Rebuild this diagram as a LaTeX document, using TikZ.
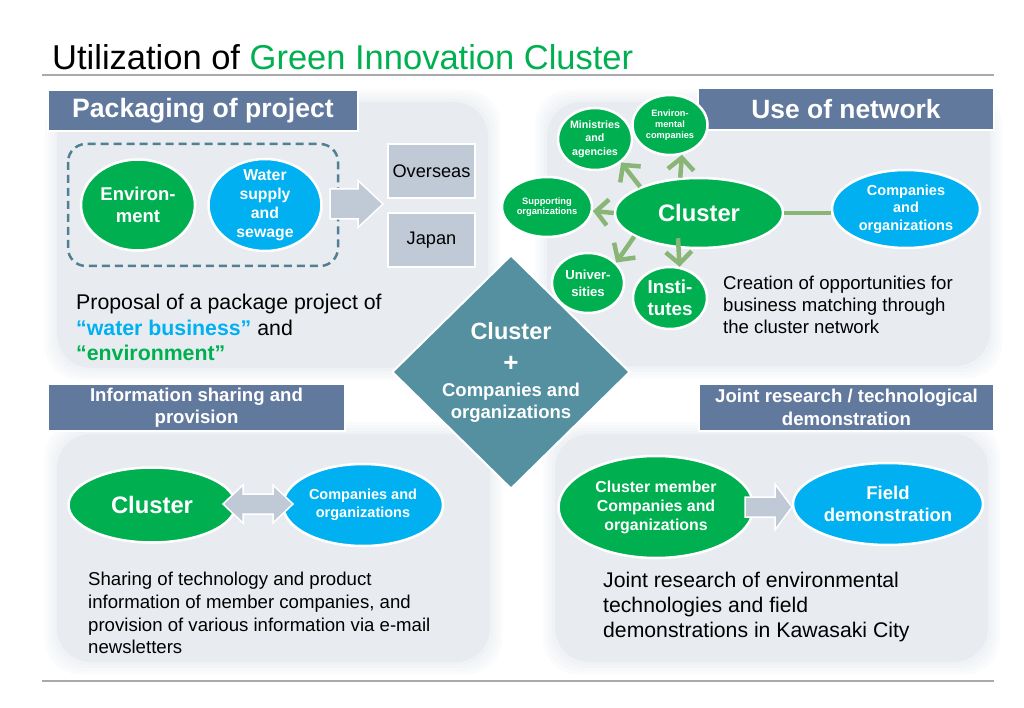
\documentclass[tikz,border=0pt]{standalone}
\usepackage{fontspec}
\setmainfont{Liberation Sans}
\usepackage{xcolor}
\usetikzlibrary{arrows.meta,positioning,shapes.geometric}
\definecolor{ClusterGreen}{RGB}{0,176,80}
\definecolor{WaterBlue}{RGB}{0,176,240}
\definecolor{HeadBlue}{RGB}{98,121,158}
\definecolor{PanelGray}{RGB}{232,236,241}
\definecolor{HubTeal}{RGB}{84,144,160}
\definecolor{NetGreen}{RGB}{137,182,118}
\definecolor{BoxGray}{RGB}{192,202,215}
\definecolor{DashTeal}{RGB}{80,128,145}
\definecolor{RuleGray}{RGB}{170,170,170}
\newcommand{\fsz}[2]{\fontsize{#1}{#2}\selectfont}
% soft-edged background panel
\newcommand{\softpanel}[4]{%
  \foreach \grow in {12,9,6,3}{%
    \fill[PanelGray, opacity=0.22, rounded corners=34pt] (#1-\grow,#2-\grow) rectangle (#3+\grow,#4+\grow);}
  \fill[PanelGray, rounded corners=34pt] (#1,#2) rectangle (#3,#4);}
\tikzset{
  headbox/.style={fill=HeadBlue, draw=white, line width=2pt, text=white, align=center, inner sep=0pt},
  greenball/.style={ellipse, fill=ClusterGreen, draw=white, line width=2.5pt, inner sep=0pt},
  blueball/.style={ellipse, fill=WaterBlue, draw=white, line width=2.5pt, inner sep=0pt},
  balltext/.style={text=white, align=center},
  graybox/.style={fill=BoxGray, draw=white, line width=2pt, inner sep=0pt},
  blockarrow/.style={fill=BoxGray, draw=white, line width=1.5pt, line join=miter},
  netarrow/.style={draw=NetGreen, line width=4.5pt, -{Straight Barb[length=12pt,width=26pt]}},
  dashbox/.style={draw=DashTeal, line width=2.5pt, dash pattern=on 8pt off 5pt, rounded corners=18pt},
  bodytext/.style={align=left, inner sep=0pt, anchor=west}
}

\begin{document}
\begin{tikzpicture}[x=1pt, y=-1pt]
  \useasboundingbox (0,0) rectangle (1024,708);

  % title and rules
  \node[anchor=base west, inner sep=0pt, font=\fsz{34.5}{40}] (title) at (52,70) {Utilization of \textcolor{ClusterGreen}{Green Innovation Cluster}};
  \draw[RuleGray, line width=1.2pt] (42,75) -- (994,75);
  \draw[RuleGray, line width=1.2pt] (42,681) -- (994,681);

  % panels
  \softpanel{57}{102}{488}{368}
  \softpanel{547}{102}{990}{366}
  \softpanel{57}{434}{490}{662}
  \softpanel{555}{434}{988}{662}

  % headers
  \node[headbox, minimum width=310pt, minimum height=41pt, font=\bfseries\fsz{26.6}{30}] (hpack) at (203,110.5) {Packaging of project};
  \node[headbox, minimum width=296pt, minimum height=42pt, font=\bfseries\fsz{26.4}{30}] (hnet) at (846,109) {Use of network};
  \node[headbox, minimum width=297pt, minimum height=47pt, font=\bfseries\fsz{18.6}{22.5}] (hinfo) at (196.5,407.5) {Information sharing and\\provision};
  \node[headbox, minimum width=295pt, minimum height=47pt, font=\bfseries\fsz{18.6}{22.5}] (hjoint) at (846.5,407.5) {Joint research / technological\\demonstration};

  % packaging of project
  \draw[dashbox] (68,144) rectangle (338,266);
  \node[greenball, minimum width=114pt, minimum height=91pt,
        label={[balltext, font=\bfseries\fsz{18.5}{21.7}]center:Environ-\\ment}] (env) at (138,205) {};
  \node[blueball, minimum width=113pt, minimum height=92pt,
        label={[balltext, font=\bfseries\fsz{15.8}{19}]center:Water\\supply\\and\\sewage}] (wat) at (265,205) {};
  \draw[blockarrow] (330,189) -- (358,189) -- (358,180.5) -- (383,204) -- (358,227.5) -- (358,219) -- (330,219) -- cycle;
  \node[graybox, minimum width=87pt, minimum height=54pt, font=\fsz{18.2}{22}] (ovs) at (431.5,171) {Overseas};
  \node[graybox, minimum width=87pt, minimum height=54pt, font=\fsz{18.2}{22}] (jpn) at (431.5,240) {Japan};
  \node[bodytext, font=\fsz{21.3}{25.5}] (prop) at (76,327.5) {Proposal of a package project of\\{\bfseries\color{WaterBlue}“water business”} and\\{\bfseries\color{ClusterGreen}“environment”}};

  % centre diamond
  \node[diamond, fill=HubTeal, draw=white, line width=2pt, minimum width=238pt, minimum height=234pt, inner sep=0pt,
        label={[balltext, font=\bfseries\fsz{18.5}{21.7}]center:{\fsz{23.5}{21.7}Cluster}\\[11pt]{\fsz{26}{21.7}+}\\[3pt]Companies and\\organizations}] (hub) at (511,372) {};

  % use of network
  \node[greenball, minimum width=168pt, minimum height=70pt,
        label={[balltext, font=\bfseries\fsz{23.8}{28}]center:Cluster}] (cl) at (699,213) {};
  \node[blueball, minimum width=148pt, minimum height=78pt,
        label={[balltext, font=\bfseries\fsz{14.5}{17.5}]center:Companies\\and\\organizations}] (co) at (906,209) {};
  \node[greenball, minimum width=90pt, minimum height=60pt,
        label={[balltext, font=\bfseries\fsz{9.3}{10.7}]center:Supporting\\organizations}] (sup) at (547,207) {};
  \node[greenball, minimum width=74pt, minimum height=62pt,
        label={[balltext, font=\bfseries\fsz{10.7}{13.3}]center:Ministries\\and\\agencies}] (mins) at (595,139) {};
  \node[greenball, minimum width=75pt, minimum height=60pt,
        label={[balltext, font=\bfseries\fsz{9.2}{11}]center:Environ-\\mental\\companies}] (envc) at (670,125) {};
  \node[greenball, minimum width=72pt, minimum height=60pt,
        label={[balltext, font=\bfseries\fsz{13.1}{16.7}]center:Univer-\\sities}] (uni) at (588,283) {};
  \node[greenball, minimum width=74pt, minimum height=62pt,
        label={[balltext, font=\bfseries\fsz{18.8}{21.7}]center:Insti-\\tutes}] (ins) at (670,298) {};
  \draw[NetGreen, line width=4pt] (cl.east) -- (cl.east -| co.west);
  \draw[netarrow] (cl.180) -- (sup.-5);
  \draw[netarrow] (cl.156) -- (mins.-42);
  \draw[netarrow] (cl.118) -- (envc.-68);
  \draw[netarrow] (cl.200) -- (uni.36);
  \draw[netarrow] ([xshift=-21pt,yshift=11pt]cl.south) -- (ins.73);
  \node[bodytext, font=\fsz{18.6}{22}] (creat) at (723,305) {Creation of opportunities for\\business matching through\\the cluster network};

  % information sharing
  \node[greenball, minimum width=167pt, minimum height=75pt,
        label={[balltext, font=\bfseries\fsz{23.8}{28}]center:Cluster}] (bcl) at (152,505) {};
  \node[blueball, minimum width=160pt, minimum height=82pt,
        label={[balltext, font=\bfseries\fsz{14.5}{18.3}]center:Companies and\\organizations}] (bco) at (363,505) {};
  \draw[blockarrow] (223,504) -- (243,485) -- (243,494) -- (273,494) -- (273,485) -- (293,504) -- (273,523) -- (273,514) -- (243,514) -- (243,523) -- cycle;
  \node[bodytext, font=\fsz{18.6}{22.7}] (share) at (88,613) {Sharing of technology and product\\information of member companies, and\\provision of various information via e-mail\\newsletters};

  % joint research
  \node[greenball, minimum width=195pt, minimum height=102pt,
        label={[balltext, font=\bfseries\fsz{15.9}{19}]center:Cluster member\\Companies and\\organizations}] (mem) at (656,507) {};
  \node[blueball, minimum width=190pt, minimum height=82pt,
        label={[balltext, font=\bfseries\fsz{18.5}{22.7}]center:Field\\demonstration}] (fld) at (888,504) {};
  \draw[blockarrow] (745,497) -- (775,497) -- (775,484) -- (792,507) -- (775,530) -- (775,517) -- (745,517) -- cycle;
  \node[bodytext, font=\fsz{21.2}{25}] (joint) at (603,607) {Joint research of environmental\\technologies and field\\demonstrations in Kawasaki City};
\end{tikzpicture}
\end{document}
